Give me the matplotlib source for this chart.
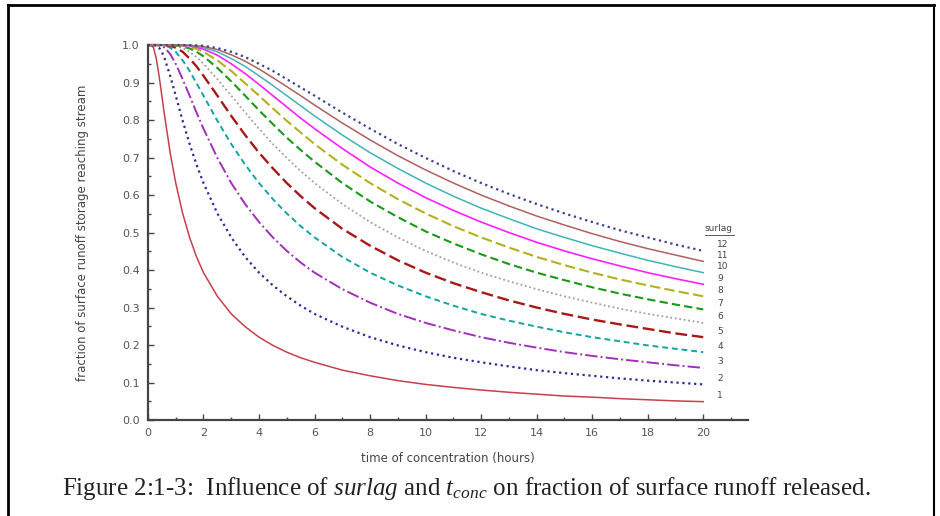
import matplotlib.pyplot as plt
from matplotlib.lines import Line2D
from matplotlib.ticker import MultipleLocator

plt.rcParams['font.family'] = 'DejaVu Sans'
plt.rcParams['mathtext.fontset'] = 'custom'
plt.rcParams['mathtext.rm'] = 'Liberation Serif'
plt.rcParams['mathtext.it'] = 'Liberation Serif:italic'

# time of concentration (hours)
tconc = [0, 0.1, 0.2, 0.3, 0.4, 0.5, 0.6, 0.8, 1, 1.25, 1.5, 1.75, 2, 2.5, 3, 3.5, 4, 4.5,
         5, 5.5, 6, 7, 8, 9, 10, 11, 12, 13, 14, 15, 16, 17, 18, 19, 20]

# fraction of surface runoff storage reaching stream, one list per surlag value
s1 = [1.0, 1.000, 0.993, 0.964, 0.918, 0.865, 0.811, 0.713, 0.632, 0.551, 0.487, 0.435, 0.393, 0.330, 0.283, 0.249, 0.221, 0.199,
      0.181, 0.166, 0.154, 0.133, 0.118, 0.105, 0.095, 0.087, 0.080, 0.074, 0.069, 0.064, 0.061, 0.057, 0.054, 0.051, 0.049]
s2 = [1.0, 1.000, 1.000, 0.999, 0.993, 0.982, 0.964, 0.918, 0.865, 0.798, 0.736, 0.681, 0.632, 0.551, 0.487, 0.435, 0.393, 0.359,
      0.330, 0.305, 0.283, 0.249, 0.221, 0.199, 0.181, 0.166, 0.154, 0.143, 0.133, 0.125, 0.118, 0.111, 0.105, 0.100, 0.095]
s3 = [1.0, 1.000, 1.000, 1.000, 0.999, 0.998, 0.993, 0.976, 0.950, 0.909, 0.865, 0.820, 0.777, 0.699, 0.632, 0.576, 0.528, 0.487,
      0.451, 0.420, 0.393, 0.349, 0.313, 0.283, 0.259, 0.239, 0.221, 0.206, 0.193, 0.181, 0.171, 0.162, 0.154, 0.146, 0.139]
s4 = [1.0, 1.000, 1.000, 1.000, 1.000, 1.000, 0.999, 0.993, 0.982, 0.959, 0.931, 0.898, 0.865, 0.798, 0.736, 0.681, 0.632, 0.589,
      0.551, 0.517, 0.487, 0.435, 0.393, 0.359, 0.330, 0.305, 0.283, 0.265, 0.249, 0.234, 0.221, 0.210, 0.199, 0.190, 0.181]
s5 = [1.0, 1.000, 1.000, 1.000, 1.000, 1.000, 1.000, 0.998, 0.993, 0.982, 0.964, 0.943, 0.918, 0.865, 0.811, 0.760, 0.713, 0.671,
      0.632, 0.597, 0.565, 0.510, 0.465, 0.426, 0.393, 0.365, 0.341, 0.319, 0.300, 0.283, 0.268, 0.255, 0.243, 0.231, 0.221]
s6 = [1.0, 1.000, 1.000, 1.000, 1.000, 1.000, 1.000, 0.999, 0.998, 0.992, 0.982, 0.968, 0.950, 0.909, 0.865, 0.820, 0.777, 0.736,
      0.699, 0.664, 0.632, 0.576, 0.528, 0.487, 0.451, 0.420, 0.393, 0.370, 0.349, 0.330, 0.313, 0.297, 0.283, 0.271, 0.259]
s7 = [1.0, 1.000, 1.000, 1.000, 1.000, 1.000, 1.000, 1.000, 0.999, 0.996, 0.991, 0.982, 0.970, 0.939, 0.903, 0.865, 0.826, 0.789,
      0.753, 0.720, 0.689, 0.632, 0.583, 0.541, 0.503, 0.471, 0.442, 0.416, 0.393, 0.373, 0.354, 0.337, 0.322, 0.308, 0.295]
s8 = [1.0, 1.000, 1.000, 1.000, 1.000, 1.000, 1.000, 1.000, 1.000, 0.998, 0.995, 0.990, 0.982, 0.959, 0.931, 0.898, 0.865, 0.831,
      0.798, 0.767, 0.736, 0.681, 0.632, 0.589, 0.551, 0.517, 0.487, 0.460, 0.435, 0.413, 0.393, 0.375, 0.359, 0.344, 0.330]
s9 = [1.0, 1.000, 1.000, 1.000, 1.000, 1.000, 1.000, 1.000, 1.000, 0.999, 0.998, 0.994, 0.989, 0.973, 0.950, 0.924, 0.895, 0.865,
      0.835, 0.805, 0.777, 0.724, 0.675, 0.632, 0.593, 0.559, 0.528, 0.500, 0.474, 0.451, 0.430, 0.411, 0.393, 0.377, 0.362]
s10 = [1.0, 1.000, 1.000, 1.000, 1.000, 1.000, 1.000, 1.000, 1.000, 1.000, 0.999, 0.997, 0.993, 0.982, 0.964, 0.943, 0.918, 0.892,
       0.865, 0.838, 0.811, 0.760, 0.713, 0.671, 0.632, 0.597, 0.565, 0.537, 0.510, 0.487, 0.465, 0.445, 0.426, 0.409, 0.393]
s11 = [1.0, 1.000, 1.000, 1.000, 1.000, 1.000, 1.000, 1.000, 1.000, 1.000, 0.999, 0.998, 0.996, 0.988, 0.974, 0.957, 0.936, 0.913,
       0.889, 0.865, 0.840, 0.792, 0.747, 0.705, 0.667, 0.632, 0.600, 0.571, 0.544, 0.520, 0.497, 0.476, 0.457, 0.440, 0.423]
s12 = [1.0, 1.000, 1.000, 1.000, 1.000, 1.000, 1.000, 1.000, 1.000, 1.000, 1.000, 0.999, 0.998, 0.992, 0.982, 0.968, 0.950, 0.931,
       0.909, 0.887, 0.865, 0.820, 0.777, 0.736, 0.699, 0.664, 0.632, 0.603, 0.576, 0.551, 0.528, 0.506, 0.487, 0.468, 0.451]

series = [s1, s2, s3, s4, s5, s6, s7, s8, s9, s10, s11, s12]
labels = ['1', '2', '3', '4', '5', '6', '7', '8', '9', '10', '11', '12']

colors = ['#c8404a', '#2c2c9c', '#a030b8', '#10a4a4', '#a81818', '#a0a0a0',
          '#189a18', '#b4b020', '#ff20ff', '#40b4b4', '#b06060', '#404094']
styles = ['-', ':', '-.', (0, (3, 2)), (0, (5, 2)), (0, (1, 1.5)),
          (0, (4, 2)), (0, (5, 2)), '-', '-', '-', ':']
widths = [1.1, 1.6, 1.4, 1.4, 1.7, 1.3, 1.5, 1.5, 1.2, 1.1, 1.1, 1.6]

fig = plt.figure(figsize=(9.4, 5.16), dpi=100)
ax = fig.add_axes([0.1574, 0.186, 0.638, 0.7267])

for vals, c, ls, lw in zip(series, colors, styles, widths):
    ax.plot(tconc, vals, color=c, linestyle=ls, linewidth=lw, clip_on=False)

# curve labels at the right end of each line
for vals, lab in zip(series, labels):
    ax.text(20.5, vals[-1] + 0.016, lab, fontsize=6.5, color='#444444',
            ha='left', va='center')
ax.text(20.05, 0.51, 'surlag', fontsize=6.5, color='#444444', ha='left', va='center')
ax.plot([20.05, 21.1], [0.493, 0.493], color='#444444', lw=0.6, clip_on=False)

ax.set_xlim(0, 21.6)
ax.set_ylim(0, 1.0)
ax.xaxis.set_major_locator(MultipleLocator(2))
ax.xaxis.set_minor_locator(MultipleLocator(1))
ax.yaxis.set_minor_locator(MultipleLocator(0.05))
ax.set_yticks([i / 10 for i in range(11)])
ax.set_yticklabels(['%.1f' % (i / 10) for i in range(11)])

for s in ['top', 'right']:
    ax.spines[s].set_visible(False)
for s in ['left', 'bottom']:
    ax.spines[s].set_color('#444444')
    ax.spines[s].set_linewidth(1.6)

ax.tick_params(which='both', direction='in', color='#444444', labelcolor='#555555',
               labelsize=8, pad=6)
ax.tick_params(which='major', length=4, width=1)
ax.tick_params(which='minor', length=2.5, width=1)

ax.set_xlabel('time of concentration (hours)', fontsize=8.5, color='#444444', labelpad=10)
ax.set_ylabel('fraction of surface runoff storage reaching stream', fontsize=8.5,
              color='#444444', labelpad=24)

fig.text(0.066, 0.054,
         r'Figure 2:1-3:  Influence of $\it{surlag}$ and $t_{conc}$ on fraction of surface runoff released.',
         fontsize=18, family='Liberation Serif', color='#222222', ha='left', va='center')

# picture frame
fig.add_artist(Line2D([8 / 940, 8 / 940], [0, 1 - 5 / 516], color='black', lw=2))
fig.add_artist(Line2D([8 / 940, 934 / 940], [1 - 5 / 516, 1 - 5 / 516], color='black', lw=2))
fig.add_artist(Line2D([934 / 940, 934 / 940], [0, 1 - 5 / 516], color='black', lw=1.5))

fig.savefig('out.png', dpi=100)
